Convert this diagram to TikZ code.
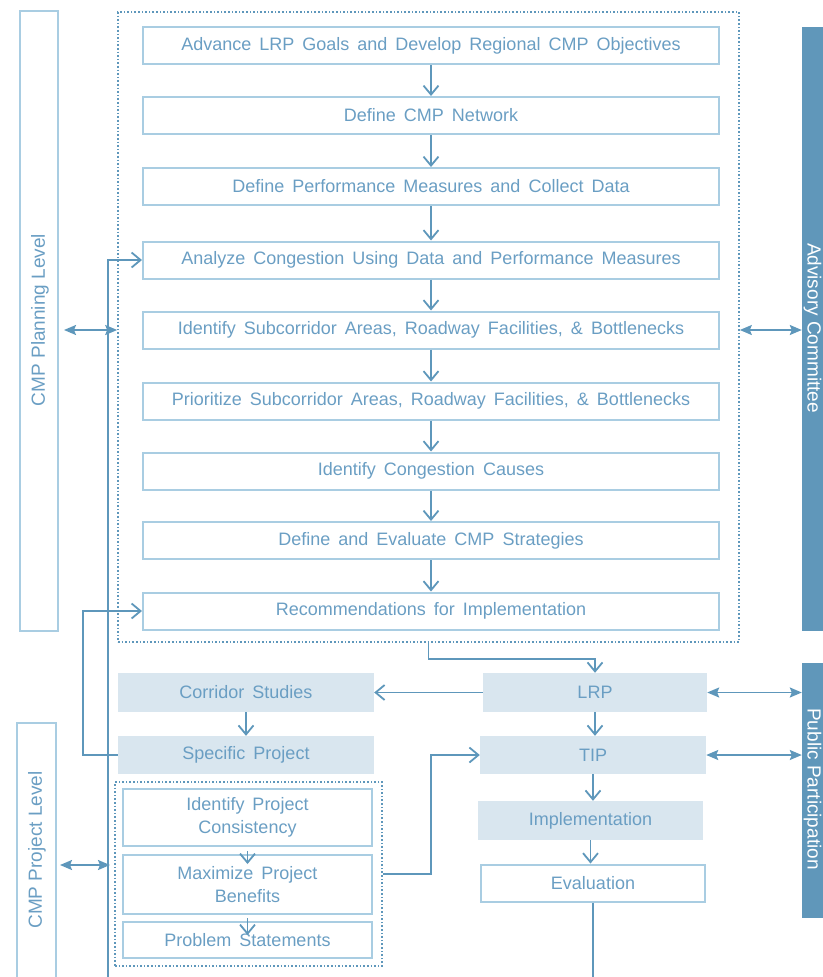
\documentclass[tikz,border=0pt]{standalone}
\usepackage{fontspec}
\setmainfont{Liberation Sans}
\newfontfamily\bxfam{Liberation Sans}[WordSpace=1.6]
\usetikzlibrary{arrows.meta}
\definecolor{boxline}{HTML}{A9CDE2}
\definecolor{txt}{HTML}{6A9EC3}
\definecolor{conn}{HTML}{5E97BB}
\definecolor{lightfill}{HTML}{D9E6EF}
\definecolor{darkfill}{HTML}{6097BA}
\newcommand\bxfont{\bxfam\fontsize{18}{23}\selectfont}
\newcommand\sdfont{\fontsize{19}{22}\selectfont}
\begin{document}
\begin{tikzpicture}[x=1pt,y=-1pt,
  mainbox/.style={draw=boxline, line width=2pt, minimum width=576pt, minimum height=37pt, inner sep=0pt, text=txt, font=\bxfont},
  fillbox/.style={fill=lightfill, inner sep=0pt, text=txt, font=\bxfont},
  whitebox/.style={draw=boxline, line width=2pt, inner sep=0pt, text=txt, font=\bxfont, align=center},
  sidebox/.style={draw=boxline, line width=2pt, inner sep=0pt},
  sidetext/.style={text=txt, font=\sdfont, inner sep=0pt},
  darkbox/.style={fill=darkfill, inner sep=0pt},
  darktext/.style={text=white, font=\sdfont, inner sep=0pt},
  dotframe/.style={draw=conn, dotted, line width=1.6pt, inner sep=0pt},
  flow/.style={draw=conn, line width=1.8pt, -{Straight Barb[length=9pt,width=15pt,line width=1.8pt]}},
  line/.style={draw=conn, line width=1.8pt},
  dbl/.style={draw=conn, line width=1.8pt, {Stealth[length=12pt,width=10pt,inset=2pt]}-{Stealth[length=12pt,width=10pt,inset=2pt]}}
]
\useasboundingbox (0,0) rectangle (822,977);

% side boxes
\node[sidebox, minimum width=38pt, minimum height=620pt] (plan) at (39,321) {};
\node[sidetext, rotate=90] (plant) at (40,320) {CMP Planning Level};
\node[sidebox, minimum width=39pt, minimum height=277pt] (proj) at (36.5,861.5) {};
\node[sidetext, rotate=90] (projt) at (37,850) {CMP Project Level};
\node[darkbox, minimum width=48pt, minimum height=604pt] (adv) at (826,329) {};
\node[darktext, rotate=-90, anchor=base] (advt) at (807.5,328) {Advisory Committee};
\node[darkbox, minimum width=48pt, minimum height=255pt] (pp) at (826,790.5) {};
\node[darktext, rotate=-90, anchor=base] (ppt) at (807.5,789) {Public Participation};

% dotted frame
\node[dotframe, minimum width=621pt, minimum height=630pt] (dotbox) at (428.5,327) {};

% main steps
\node[mainbox] (b1) at (431,45.5) {Advance LRP Goals and Develop Regional CMP Objectives};
\node[mainbox] (b2) at (431,115.5) {Define CMP Network};
\node[mainbox] (b3) at (431,186.5) {Define Performance Measures and Collect Data};
\node[mainbox] (b4) at (431,260) {Analyze Congestion Using Data and Performance Measures};
\node[mainbox] (b5) at (431,330) {Identify Subcorridor Areas, Roadway Facilities, \& Bottlenecks};
\node[mainbox] (b6) at (431,401) {Prioritize Subcorridor Areas, Roadway Facilities, \& Bottlenecks};
\node[mainbox] (b7) at (431,471) {Identify Congestion Causes};
\node[mainbox] (b8) at (431,540.5) {Define and Evaluate CMP Strategies};
\node[mainbox] (b9) at (431,611) {Recommendations for Implementation};

\foreach \a/\b in {b1/b2,b2/b3,b3/b4,b4/b5,b5/b6,b6/b7,b7/b8,b8/b9}
  \draw[flow] (\a) -- (\b);

% lower right column
\node[fillbox, minimum width=224pt, minimum height=39pt] (lrp) at (595,692.5) {LRP};
\node[fillbox, minimum width=226pt, minimum height=38pt] (tip) at (593,755) {TIP};
\node[fillbox, minimum width=225pt, minimum height=39pt] (impl) at (590.5,820.5) {Implementation};
\node[whitebox, minimum width=224pt, minimum height=37pt] (eval) at (593,883) {Evaluation};

% lower left column
\node[fillbox, minimum width=256pt, minimum height=39pt] (cor) at (246,692.5) {Corridor Studies};
\node[fillbox, minimum width=256pt, minimum height=38pt] (spec) at (246,755) {Specific Project};
\node[dotframe, minimum width=267pt, minimum height=184pt] (ldot) at (248.5,874) {};
\node[whitebox, minimum width=249pt, minimum height=57pt] (ipc) at (247.5,817.5) {Identify Project\\Consistency};
\node[whitebox, minimum width=249pt, minimum height=59pt] (mpb) at (247.5,884.5) {Maximize Project\\Benefits};
\node[whitebox, minimum width=249pt, minimum height=36pt] (ps) at (247.5,940) {Problem Statements};

\coordinate (bot) at (108,977);
\coordinate (vl) at (110,865);
\coordinate (pl) at ([xshift=5pt]plan.east);
\coordinate (pj) at ([xshift=3pt]proj.east);

% connectors
\draw[flow] (bot) |- (b4.west);
\draw[flow] (spec.west) -- ++(-35,0) |- (b9.west);
\draw[flow] (dotbox.south) -- ++(0,16) -| (lrp.north);
\draw[flow] (lrp.west) -- (cor.east);
\draw[flow] (cor) -- (spec);
\draw[flow] (lrp.south) -- (lrp.south |- tip.north);
\draw[flow] (tip.south) -- (tip.south |- impl.north);
\draw[flow] (impl.south) -- (impl.south |- eval.north);
\draw[line] (eval.south) -- (eval.south |- bot);
\draw[flow] ([yshift=-4pt]ipc.south) -- ([yshift=-10pt]mpb.north);
\draw[flow] ([yshift=-3pt]mpb.south) -- ([yshift=-14pt]ps.north);
\draw[flow] (ldot.east) -- ++(48,0) |- (tip.west);

\draw[dbl] (pl |- b5) -- (dotbox.west |- b5);
\draw[dbl] (dotbox.east |- b5) -- (adv.west |- b5);
\draw[dbl] (pj |- vl) -- (vl);
\draw[dbl] (lrp.east) -- (lrp.east -| adv.west);
\draw[dbl] (tip.east) -- (tip.east -| adv.west);
\end{tikzpicture}
\end{document}
